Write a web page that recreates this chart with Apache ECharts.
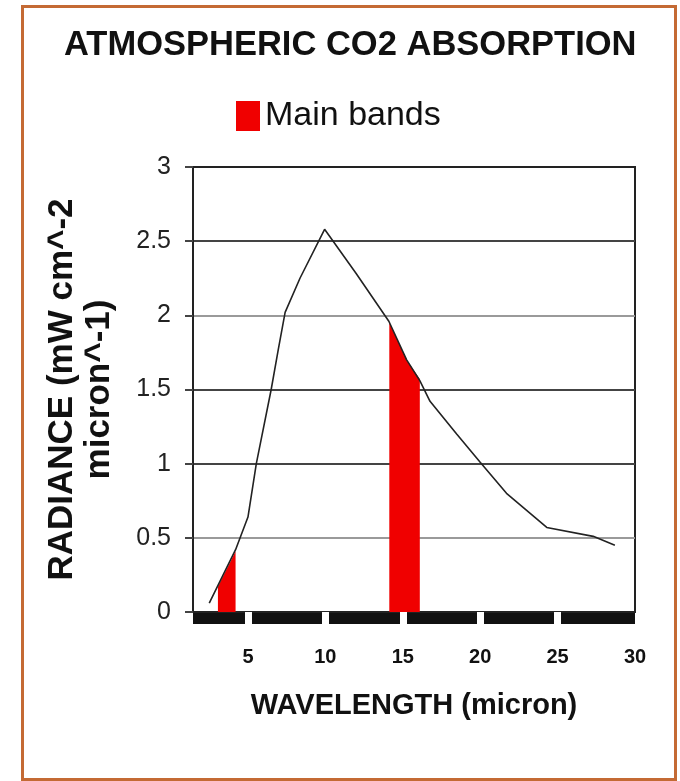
<!DOCTYPE html>
<html>
<head>
<meta charset="utf-8">
<script src="https://cdn.jsdelivr.net/npm/echarts@6/dist/echarts.min.js"></script>
<style>
  html, body { margin: 0; padding: 0; background: #fff; }
  #frame { position: absolute; left: 21px; top: 5px; width: 650px; height: 770px; border: 3px solid #c46a34; box-sizing: content-box; }
  #chart { position: absolute; left: 0; top: 0; width: 680px; height: 781px; }
</style>
</head>
<body>
<div id="frame"></div>
<div id="chart"></div>
<script>
// ---- data ----
const wavelength = [2.5, 4.2, 5.0, 5.54, 6.5, 6.96, 7.4, 8.36, 9.95, 12.0, 14.1, 15.25, 16.1, 16.76, 18.48, 20.0, 21.7, 24.3, 27.3, 28.7];
const radiance   = [0.06, 0.42, 0.64, 1.0, 1.5, 1.77, 2.02, 2.25, 2.58, 2.28, 1.96, 1.70, 1.56, 1.42, 1.20, 1.01, 0.80, 0.57, 0.51, 0.45];

const band1Wavelength = [3.06, 4.2];
const band1Radiance   = [0.17, 0.41];
const band2Wavelength = [14.13, 15.25, 16.1];
const band2Radiance   = [1.95, 1.70, 1.57];

const xTickValues = [5, 10, 15, 20, 25, 30];
const xGapValues  = [5, 10, 15, 20, 25];

const titleText = 'ATMOSPHERIC CO2 ABSORPTION';
const legendName = 'Main bands';
const xName = 'WAVELENGTH (micron)';
const yName = 'RADIANCE (mW cm^-2\nmicron^-1)';

const pairs = (xs, ys) => xs.map((x, i) => [x, ys[i]]);

const FONT = 'Liberation Sans, Arial, Helvetica, sans-serif';
const chart = echarts.init(document.getElementById('chart'));

const xMin = 1.45, xMax = 30;

chart.setOption({
  backgroundColor: 'transparent',
  animation: false,
  title: {
    text: titleText,
    left: 59, top: 23,
    textStyle: { fontFamily: FONT, fontSize: 34.5, fontWeight: 'bold', color: '#111' }
  },
  legend: {
    data: [legendName],
    left: 231, top: 94,
    icon: 'rect',
    itemWidth: 24, itemHeight: 30,
    textStyle: { fontFamily: FONT, fontSize: 34, color: '#111' }
  },
  grid: [
    {
      left: 193, right: 45, top: 167, bottom: 169,
      show: true, borderColor: '#222', borderWidth: 2, backgroundColor: 'transparent'
    },
    {
      left: 193, right: 45, top: 612, height: 12,
      show: true, borderWidth: 0, backgroundColor: '#111'
    }
  ],
  xAxis: [
    {
      gridIndex: 0, type: 'value', min: xMin, max: xMax,
      axisLine: { show: false }, axisTick: { show: false }, axisLabel: { show: false },
      splitLine: { show: false }
    },
    {
      gridIndex: 1, type: 'value', min: xMin, max: xMax,
      position: 'bottom',
      name: xName, nameLocation: 'middle', nameGap: 67,
      nameTextStyle: { fontFamily: FONT, fontSize: 29, fontWeight: 'bold', color: '#111' },
      axisLine: { show: false },
      axisTick: { show: true, inside: true, customValues: xGapValues, length: 12, lineStyle: { color: '#fff', width: 7, cap: 'butt' } },
      axisLabel: { show: true, customValues: xTickValues, margin: 23, fontFamily: FONT, fontSize: 20, fontWeight: 'bold', color: '#111' },
      splitLine: { show: false }
    }
  ],
  yAxis: [
    {
      gridIndex: 0, type: 'value', min: 0, max: 3, interval: 0.5,
      name: yName, nameLocation: 'middle', nameGap: 75, nameRotate: 90,
      nameTextStyle: { fontFamily: FONT, fontSize: 35, fontWeight: 'bold', color: '#111', lineHeight: 37, align: 'center' },
      axisLine: { show: true, lineStyle: { color: '#222', width: 2 } },
      axisTick: { show: true, length: 8, lineStyle: { color: '#444', width: 2 } },
      axisLabel: { margin: 22, fontFamily: FONT, fontSize: 25, color: '#222' },
      splitLine: { show: true, lineStyle: { color: ['#222', '#9a9a9a', '#444', '#444', '#9a9a9a', '#444', '#222'], width: 2 } }
    },
    {
      gridIndex: 1, type: 'value', min: 0, max: 1, show: false
    }
  ],
  series: [
    {
      name: legendName, type: 'line', xAxisIndex: 0, yAxisIndex: 0,
      data: pairs(band1Wavelength, band1Radiance),
      showSymbol: false, lineStyle: { width: 0 },
      itemStyle: { color: '#f00000' },
      areaStyle: { color: '#f00000', opacity: 1 }, z: 2
    },
    {
      name: legendName, type: 'line', xAxisIndex: 0, yAxisIndex: 0,
      data: pairs(band2Wavelength, band2Radiance),
      showSymbol: false, lineStyle: { width: 0 },
      itemStyle: { color: '#f00000' },
      areaStyle: { color: '#f00000', opacity: 1 }, z: 2
    },
    {
      name: 'Radiance', type: 'line', xAxisIndex: 0, yAxisIndex: 0,
      data: pairs(wavelength, radiance),
      showSymbol: false,
      lineStyle: { color: '#222', width: 1.6 },
      itemStyle: { color: '#222' }, z: 3
    }
  ]
});
</script>
</body>
</html>
